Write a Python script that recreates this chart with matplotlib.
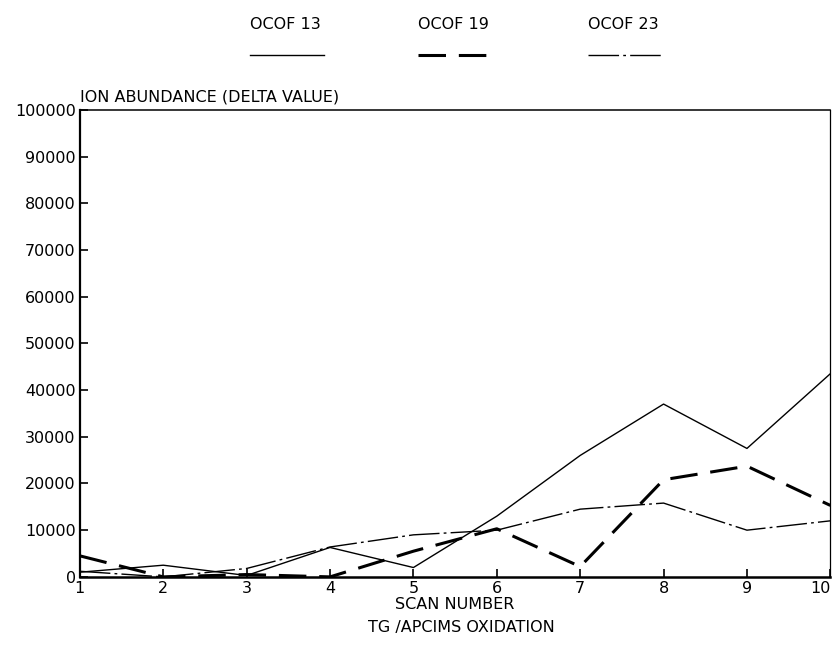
import matplotlib
matplotlib.use('Agg')
import matplotlib.pyplot as plt
from matplotlib.lines import Line2D

scan = [1, 2, 3, 4, 5, 6, 7, 8, 9, 10]
ocof13 = [1000, 2500, 300, 6300, 2000, 13000, 26000, 37000, 27500, 43500]
ocof19 = [4500, 0, 500, 0, 5500, 10300, 2200, 20800, 23700, 15300]
ocof23 = [1200, 0, 1800, 6400, 9000, 10000, 14500, 15800, 10000, 12000]

series_names = ['OCOF 13', 'OCOF 19', 'OCOF 23']
yticks = list(range(0, 100001, 10000))

styles = [
    dict(color='black', linewidth=1.0, linestyle='-'),
    dict(color='black', linewidth=2.2, linestyle=(0, (9, 4.2))),
    dict(color='black', linewidth=1.0, linestyle=(0, (22, 3, 2, 3))),
]
FS = 11.5

fig = plt.figure(figsize=(8.32, 6.46), dpi=100, facecolor='white')
ax = fig.add_axes([0.096, 0.107, 0.902, 0.723])

for vals, st in zip([ocof13, ocof19, ocof23], styles):
    ax.plot(scan, vals, **st)

ax.set_xlim(1, 10)
ax.set_ylim(0, 100000)
ax.set_xticks(scan)
ax.set_xticklabels([str(s) for s in scan])
ax.set_yticks(yticks)
ax.set_yticklabels([str(v) for v in yticks])
ax.tick_params(direction='in', length=6, width=1.2, labelsize=FS, pad=3)
ax.get_xticklabels()[-1].set_horizontalalignment('right')
ax.spines['left'].set_linewidth(1.6)
ax.spines['bottom'].set_linewidth(1.8)
ax.spines['top'].set_linewidth(1.1)
ax.spines['right'].set_linewidth(0.9)

fig.text(0.096, 0.838, 'ION ABUNDANCE (DELTA VALUE)', fontsize=FS,
         ha='left', va='bottom')
fig.text(0.547, 0.064, 'SCAN NUMBER', fontsize=FS, ha='center', va='center')
fig.text(0.555, 0.029, 'TG /APCIMS OXIDATION', fontsize=FS, ha='center', va='center')

# legend laid out across the top
leg_x = [0.300, 0.502, 0.707]
for name, x0, st in zip(series_names, leg_x, styles):
    fig.text(x0, 0.962, name, fontsize=FS, ha='left', va='center')
    fig.add_artist(Line2D([x0, x0 + 0.090], [0.915, 0.915],
                          transform=fig.transFigure, **st))

fig.savefig('out.png', dpi=100, facecolor='white')
